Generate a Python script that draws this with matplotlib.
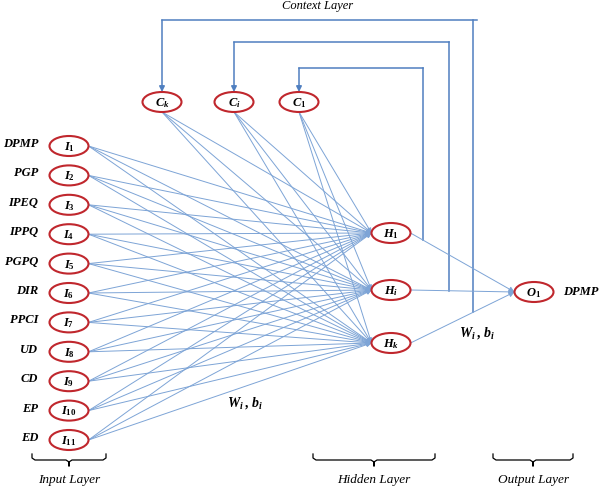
import matplotlib
matplotlib.use('Agg')
import matplotlib.pyplot as plt
from matplotlib.patches import Ellipse

plt.rcParams['font.family'] = ['Liberation Serif', 'DejaVu Serif']
plt.rcParams['mathtext.fontset'] = 'custom'
plt.rcParams['mathtext.it'] = 'Liberation Serif:italic:bold'
plt.rcParams['mathtext.rm'] = 'Liberation Serif:bold'

# data
input_names = ['DPMP', 'PGP', 'IPEQ', 'IPPQ', 'PGPQ', 'DIR', 'PPCI', 'UD', 'CD', 'EP', 'ED']
input_nodes = ['$I_{%d}$' % (i + 1) for i in range(len(input_names))]
context_nodes = ['$C_k$', '$C_i$', '$C_1$']
hidden_nodes = ['$H_1$', '$H_i$', '$H_k$']
output_node = '$O_1$'
output_name = 'DPMP'
weight_label = '$W_i\\,,\\,b_i$'
layer_names = ['Input Layer', 'Hidden Layer', 'Output Layer']

# layout
in_x, in_y0, in_dy = 69, 146, 29.4
ctx_x, ctx_y = [162, 234, 299], 102
hid_x, hid_y = 391, [233, 290, 343]
out_x, out_y = 534, 292
loop_x = [423, 449, 473]
loop_top = [68, 42, 20]
ew, eh = 39, 20

red = '#c0272d'
blue = '#7da4d6'
dblue = '#4f7fc0'

fig = plt.figure(figsize=(6.02, 4.88), dpi=100)
ax = fig.add_axes([0, 0, 1, 1])
ax.set_xlim(0, 602)
ax.set_ylim(488, 0)
ax.axis('off')


def node(x, y, label):
    ax.add_patch(Ellipse((x, y), ew, eh, fc='white', ec=red, lw=1.5, zorder=3))
    ax.text(x, y + 1, label, ha='center', va='center', fontsize=9, zorder=4)


def arrow(p0, p1, color=blue, lw=0.7, ms=7):
    ax.annotate('', xy=p1, xytext=p0,
                arrowprops=dict(arrowstyle='-|>', color=color, lw=lw,
                                mutation_scale=ms, shrinkA=0, shrinkB=0))


in_y = [in_y0 + i * in_dy for i in range(len(input_names))]

# input -> hidden, context -> hidden
for y in in_y:
    for hy in hid_y:
        arrow((in_x + ew / 2, y), (hid_x - ew / 2, hy))
for cx in ctx_x:
    for hy in hid_y:
        arrow((cx, ctx_y + eh / 2), (hid_x - ew / 2, hy))

# hidden -> output
hx_r, ox_l = hid_x + ew / 2, out_x - ew / 2
for hy in hid_y:
    arrow((hx_r, hy), (ox_l, out_y), ms=8)

# recurrent connections back to the context nodes
for k, (lx, top) in enumerate(zip(loop_x, loop_top)):
    hy = hid_y[k]
    yb = hy + (out_y - hy) * (lx - hx_r) / (ox_l - hx_r)
    cx = ctx_x[2 - k]
    ax.plot([lx, lx], [yb, top], color=dblue, lw=1.1)
    ax.plot([lx + (4 if k == 2 else 0), cx], [top, top], color=dblue, lw=1.1)
    arrow((cx, top), (cx, ctx_y - eh / 2), color=dblue, lw=1.1, ms=8)

for y, lab, name in zip(in_y, input_nodes, input_names):
    node(in_x, y, lab)
    ax.text(38, y - 2, name, ha='right', va='center', fontsize=9,
            style='italic', weight='bold')
for cx, lab in zip(ctx_x, context_nodes):
    node(cx, ctx_y, lab)
for hy, lab in zip(hid_y, hidden_nodes):
    node(hid_x, hy, lab)
node(out_x, out_y, output_node)
ax.text(563, out_y, output_name, ha='left', va='center', fontsize=9,
        style='italic', weight='bold')

ax.text(318, 6, 'Context Layer', ha='center', va='center', fontsize=9, style='italic')
ax.text(245, 403, weight_label, ha='center', va='center', fontsize=10)
ax.text(477, 333, weight_label, ha='center', va='center', fontsize=10)


def brace(x0, x1, y):
    xm = (x0 + x1) / 2
    ax.plot([x0, x0, x0 + 3, xm - 3, xm, xm, xm, xm + 3, x1 - 3, x1, x1],
            [y - 6, y - 2, y, y, y + 2, y + 6, y + 2, y, y, y - 2, y - 6],
            color='black', lw=0.9)


braces = [(32, 106), (313, 435), (493, 573)]
for (x0, x1), name in zip(braces, layer_names):
    brace(x0, x1, 460)
    ax.text((x0 + x1) / 2, 480, name, ha='center', va='center', fontsize=9.5,
            style='italic')

fig.savefig('out.png', dpi=100)
